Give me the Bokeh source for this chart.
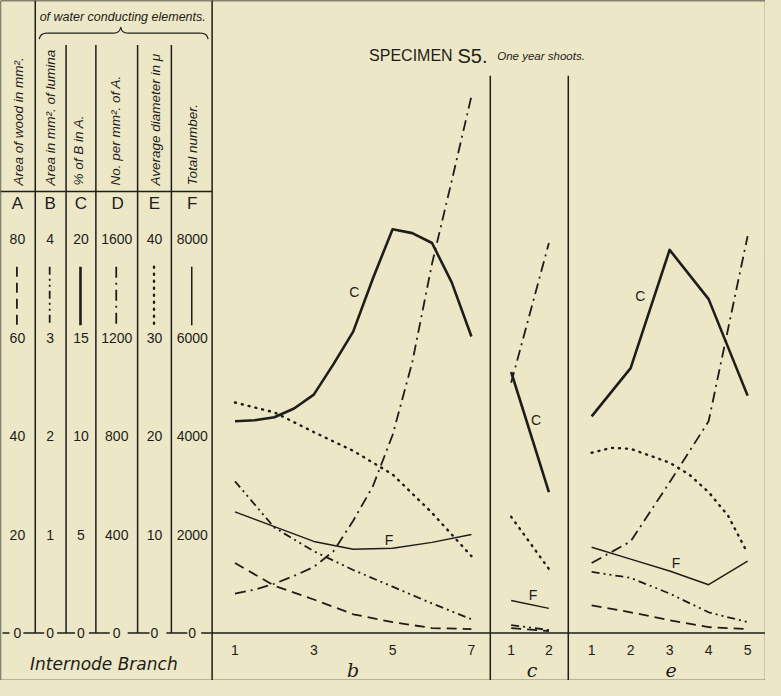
import math
from bokeh.plotting import figure
from bokeh.models import Range1d, GlobalInlineStyleSheet
from bokeh.core.properties import value
from bokeh.embed import file_html
from bokeh.resources import INLINE

# ---------------- data ----------------
# A area of wood (mm2), B area of lumina (mm2), C % of B in A,
# D number per mm2 of A, E average diameter (mu), F total number
b_x = [1, 2, 3, 4, 5, 6, 7]
b_xh = [1, 1.5, 2, 2.5, 3, 3.5, 4, 4.5, 5, 5.5, 6, 6.5, 7]
b_A = [14.2, 9.6, 6.8, 3.8, 2.2, 1.0, 0.8]
b_B = [1.54, 1.07, 0.83, 0.64, 0.47, 0.30, 0.14]
b_C = [10.75, 10.8, 10.95, 11.4, 12.1, 13.65, 15.3, 18.0, 20.5, 20.3, 19.8, 17.8, 15.05]
b_D = [160, 176, 200, 232, 268, 332, 456, 596, 804, 1100, 1500, 1836, 2180]
b_E = [23.4, 22.4, 20.4, 18.5, 16.1, 12.2, 7.8]
b_F = [2460, 2160, 1860, 1700, 1720, 1840, 2000]

c_x = [1, 2]
c_A = [1.0, 0.4]
c_B = [0.08, 0.03]
c_C = [13.25, 7.15]
c_D = [1016, 1584]
c_E = [11.8, 6.5]
c_F = [660, 500]

e_x = [1, 2, 3, 4, 5]
e_xh = [1, 1.5, 2, 2.5, 3, 3.5, 4, 4.5, 5]
e_A = [5.6, 4.2, 2.6, 1.2, 0.8]
e_B = [0.62, 0.56, 0.40, 0.21, 0.11]
e_C = [11.0, 13.45, 19.45, 16.95, 12.05]
e_D = [284, 372, 612, 860, 1612]
e_E = [18.3, 18.8, 18.7, 18.0, 17.3, 16.1, 14.3, 11.9, 8.1]
e_F = [1740, 1500, 1260, 980, 1460]

col_letters = ["A", "B", "C", "D", "E", "F"]
col_titles = ["Area of wood in mm².", "Area in mm². of lumina", "% of B in A.",
              "No. per mm². of A.", "Average diameter in μ", "Total number."]
tick_A = [0, 20, 40, 60, 80]
tick_B = [0, 1, 2, 3, 4]
tick_C = [0, 5, 10, 15, 20]
tick_D = [0, 400, 800, 1200, 1600]
tick_E = [0, 10, 20, 30, 40]
tick_F = [0, 2000, 4000, 6000, 8000]
b_ticks = [1, 3, 5, 7]
c_ticks = [1, 2]
e_ticks = [1, 2, 3, 4, 5]
branch_names = ["b", "c", "e"]

# ---------------- layout helpers ----------------
INK = "#1d1d1b"
BG = "#ECE7C6"
SANS = "Liberation Sans"


def span(v0, p0, v1, p1, lo, hi):
    k = (v1 - v0) / (p1 - p0)
    return Range1d(start=v0 + (lo - p0) * k, end=v0 + (hi - p0) * k)


p = figure(width=765, height=680, output_backend="svg", toolbar_location=None,
           x_range=Range1d(7, 777), y_range=Range1d(694, 7),
           x_axis_location=None, y_axis_location=None, min_border=0,
           background_fill_color=BG, border_fill_color=BG, outline_line_color=None)
p.grid.visible = False
p.stylesheets = [GlobalInlineStyleSheet(css=f"html, body {{ background: {BG}; }}")]

ticks = {"A": tick_A, "B": tick_B, "C": tick_C, "D": tick_D, "E": tick_E, "F": tick_F}
Y0, Y80 = 646, 248
for k, t in ticks.items():
    p.extra_y_ranges[k] = span(0, Y0, max(t), Y80, 694, 7)
p.extra_x_ranges["b"] = span(1, 243, 7, 481, 7, 777)
p.extra_x_ranges["c"] = span(1, 521, 2, 559, 7, 777)
p.extra_x_ranges["e"] = span(1, 602, 5, 759, 7, 777)

styles = {
    "A": dict(line_dash="10 6", line_width=1.8),
    "B": dict(line_dash="8 4 2 4 2 4", line_width=1.8),
    "C": dict(line_width=2.6),
    "D": dict(line_dash="11 5 2 5", line_width=1.8),
    "E": dict(line_dash="1 6", line_width=2.4, line_cap="round"),
    "F": dict(line_width=1.5),
}


def seg(xs, ys, w=1.4, **kw):
    p.line(xs, ys, line_color=INK, line_width=w, **kw)


def txt(x, y, s, size, italic=False, align="center", base="middle", angle=0, font=SANS, **kw):
    p.text(x=x, y=y, text=s, text_font=value(font), text_font_size=value(f"{size}px"),
           text_font_style="italic" if italic else "normal", text_color=INK,
           text_align=align, text_baseline=base, angle=angle, **kw)


# ---------------- frame & table rules ----------------
seg([7, 777, 777, 7, 7], [7, 7, 694, 694, 7], w=1.3)
seg([220, 220], [7, 694], w=1.5)
seg([42, 42], [7, Y0], w=1.5)
for xv in [73, 103, 145, 179]:
    seg([xv, xv], [52, Y0], w=1.5)
seg([7, 220], [200, 200], w=1.5)
for a, b in [(9, 16), (30, 51), (64, 82), (96, 117), (135, 157), (174, 195), (209, 777)]:
    seg([a, b], [Y0, Y0], w=1.5)
seg([500, 500], [83, 694], w=1.5)
seg([578.5, 578.5], [83, 694], w=1.5)

# brace
p.quadratic(x0=[46, 121, 128, 208], y0=[46, 40, 34, 40], x1=[54, 128, 135, 216],
            y1=[40, 34, 40, 46], cx=[47, 127, 129, 215], cy=[40, 40, 40, 40],
            line_color=INK, line_width=1.2)
seg([54, 121], [40, 40], w=1.2)
seg([135, 208], [40, 40], w=1.2)
txt([130], [24], ["of water conducting elements."], 12.5, italic=True)

col_x = [24, 57, 88, 124, 162, 200]
lab_x = [25, 57, 86, 123, 163, 200]
for i, k in enumerate(col_letters):
    txt([lab_x[i]], [194], [col_titles[i]], 13.5, italic=True, align="left", angle=math.pi / 2)
    txt([col_x[i] + (1 if k == "D" else 0)], [212], [k], 17)
    t = ticks[k]
    txt([col_x[i]] * len(t), t, [str(v) for v in t], 14, y_range_name=k)
    p.line([col_x[i] - 0.5, col_x[i] - 0.5], [276, 335], line_color=INK, **styles[k])

# title
txt([378], [63], ["SPECIMEN"], 16, align="left", base="alphabetic")
txt([467], [63], ["S5."], 20, align="left", base="alphabetic")
txt([507], [63], ["One year shoots."], 11.5, italic=True, align="left", base="alphabetic")

# bottom labels
txt([111], [677], ["Internode Branch"], 17, italic=True, font="DejaVu Sans")
txt(b_ticks, [663] * len(b_ticks), [str(v) for v in b_ticks], 14, x_range_name="b")
txt(c_ticks, [663] * len(c_ticks), [str(v) for v in c_ticks], 14, x_range_name="c")
txt(e_ticks, [663] * len(e_ticks), [str(v) for v in e_ticks], 14, x_range_name="e")
txt([362, 542, 682], [683, 683, 683], branch_names, 19, italic=True, font="DejaVu Serif")

# ---------------- curves ----------------
panels = {
    "b": {"A": (b_x, b_A), "B": (b_x, b_B), "C": (b_xh, b_C), "D": (b_xh, b_D),
          "E": (b_x, b_E), "F": (b_x, b_F)},
    "c": {"A": (c_x, c_A), "B": (c_x, c_B), "C": (c_x, c_C), "D": (c_x, c_D),
          "E": (c_x, c_E), "F": (c_x, c_F)},
    "e": {"A": (e_x, e_A), "B": (e_x, e_B), "C": (e_x, e_C), "D": (e_x, e_D),
          "E": (e_xh, e_E), "F": (e_x, e_F)},
}
for pn, series in panels.items():
    for k, (xs, ys) in series.items():
        p.line(xs, ys, x_range_name=pn, y_range_name=k, line_color=INK,
               line_join="round", **styles[k])

# curve labels
txt([363, 398, 546, 543, 651, 687], [301, 552, 431, 608, 306, 575],
    ["C", "F", "C", "F", "C", "F"], 14)

open("out.html", "w").write(file_html(p, INLINE))
